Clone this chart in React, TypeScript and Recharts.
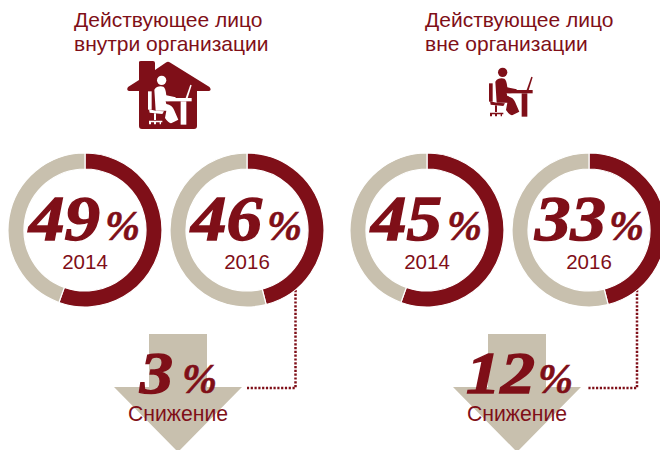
import { Cell, Pie, PieChart } from "recharts";

const RED = "#7f0f18";
const BEIGE = "#c8c0ae";
const SANS = "'Liberation Sans', Arial, sans-serif";
const SERIF = "'Liberation Serif', serif";

const titles = [
  ["Действующее лицо", "внутри организации"],
  ["Действующее лицо", "вне организации"],
];
const years = ["2014", "2016", "2014", "2016"];
const shares = [49, 46, 45, 33];
// the rings as drawn in the picture do not follow their labels
const arcShares = [55.5, 46, 55.5, 46];
const drops = [3, 12];
const dropLabel = "Снижение";

const ringX = [85, 247, 427, 589];
const ringY = 230;
const numberX = [29, 191, 371, 535];
const percentX = [105, 267, 447, 609];
const titleX = [74, 425];
const arrowX = [178, 517];
const dropX = [140, 466];
const dropWidth = [33, 69];
const dropPercentX = [182, 538];

function Person({ x, y, color }: { x: number; y: number; color: string }) {
  return (
    <g transform={`translate(${x},${y}) scale(0.3333)`} fill={color} stroke="none">
      <circle cx={98} cy={37} r={14} />
      <path d="M76 65 Q85 52 103 56 Q110 60 112 82 L140 88 L140 98 L110 100 L112 108 Q130 112 135 125 L148 155 L128 165 Q120 168 108 150 L112 128 L80 128 Z" />
      <rect x={57} y={70} width={11} height={55} />
      <path d="M60 124 L80 128 L105 130 L100 138 L62 134 Z" />
      <rect x={75} y={136} width={6} height={20} />
      <path d="M60 158 L100 158 L100 163 L96 163 L96 169 L92 169 L92 163 L81 163 L81 169 L75 169 L75 163 L66 163 L66 169 L60 169 Z" />
      <rect x={112} y={90} width={76} height={10} />
      <rect x={155} y={100} width={17} height={70} />
      <path d="M170 90 L184 50 L188 52 L176 90 Z" />
    </g>
  );
}

function Arrow({ cx }: { cx: number }) {
  const p = [
    [cx - 29, 334],
    [cx + 29, 334],
    [cx + 29, 387],
    [cx + 64, 387],
    [cx, 452],
    [cx - 64, 387],
    [cx - 29, 387],
  ];
  return <polygon points={p.map((q) => q.join(",")).join(" ")} fill={BEIGE} />;
}

export default function App() {
  return (
    <div style={{ position: "fixed", left: 0, top: 0, width: 660, height: 450, overflow: "hidden", background: "#fff" }}>
      <PieChart width={660} height={450} margin={{ top: 0, right: 0, bottom: 0, left: 0 }}>
        {/* house icon */}
        <path
          d="M139 62 Q139 61 141 61 L153 61 Q155 61 155 63 L155 70 L166 62.5 Q168 61 170 62.5 L209.5 87 Q212 90 209 91 L197 91 L197 126 Q197 129 194 129 L142 129 Q139 129 139 126 L139 91 L129 91 Q126 90 128 87 L139 80 Z"
          fill={RED}
        />
        <Person x={129} y={68} color="#fff" />
        <Person x={470} y={60} color={RED} />

        {titles.map((lines, i) =>
          lines.map((line, j) => (
            <text key={line + i} x={titleX[i]} y={27 + j * 24} fontFamily={SANS} fontSize={21} fill={RED}>
              {line}
            </text>
          ))
        )}

        {arcShares.map((share, i) => (
          <Pie
            key={i}
            data={[
              { name: "share", value: share },
              { name: "rest", value: 100 - share },
            ]}
            dataKey="value"
            cx={ringX[i]}
            cy={ringY}
            innerRadius={61}
            outerRadius={77}
            startAngle={90}
            endAngle={-270}
            stroke="#fff"
            strokeWidth={1.2}
            isAnimationActive={false}
          >
            <Cell fill={RED} />
            <Cell fill={BEIGE} />
          </Pie>
        ))}

        {shares.map((share, i) => (
          <g key={i} fill={RED}>
            <text
              x={numberX[i]}
              y={240}
              fontFamily={SERIF}
              fontSize={63}
              fontWeight={700}
              fontStyle="italic"
              stroke={RED}
              strokeWidth={1.4}
              textLength={71}
              lengthAdjust="spacingAndGlyphs"
            >
              {share}
            </text>
            <text x={percentX[i]} y={240} fontFamily={SERIF} fontSize={42} fontWeight={700} fontStyle="italic" stroke={RED} strokeWidth={0.6}>
              %
            </text>
            <text x={ringX[i]} y={269} textAnchor="middle" fontFamily={SANS} fontSize={20.5}>
              {years[i]}
            </text>
          </g>
        ))}

        <path d="M295.5 290 L295.5 388 L247 388" fill="none" stroke={RED} strokeWidth={2.5} strokeDasharray="2.2 1.6" />
        <path d="M637 290 L637 388 L588 388" fill="none" stroke={RED} strokeWidth={2.5} strokeDasharray="2.2 1.6" />

        {drops.map((drop, i) => (
          <g key={i} fill={RED}>
            <Arrow cx={arrowX[i]} />
            <text
              x={dropX[i]}
              y={393}
              fontFamily={SERIF}
              fontSize={59}
              fontWeight={700}
              fontStyle="italic"
              stroke={RED}
              strokeWidth={1.4}
              textLength={dropWidth[i]}
              lengthAdjust="spacingAndGlyphs"
            >
              {drop}
            </text>
            <text x={dropPercentX[i]} y={393} fontFamily={SERIF} fontSize={42} fontWeight={700} fontStyle="italic" stroke={RED} strokeWidth={0.6}>
              %
            </text>
            <text x={arrowX[i]} y={421} textAnchor="middle" fontFamily={SANS} fontSize={21.2}>
              {dropLabel}
            </text>
          </g>
        ))}
      </PieChart>
    </div>
  );
}
